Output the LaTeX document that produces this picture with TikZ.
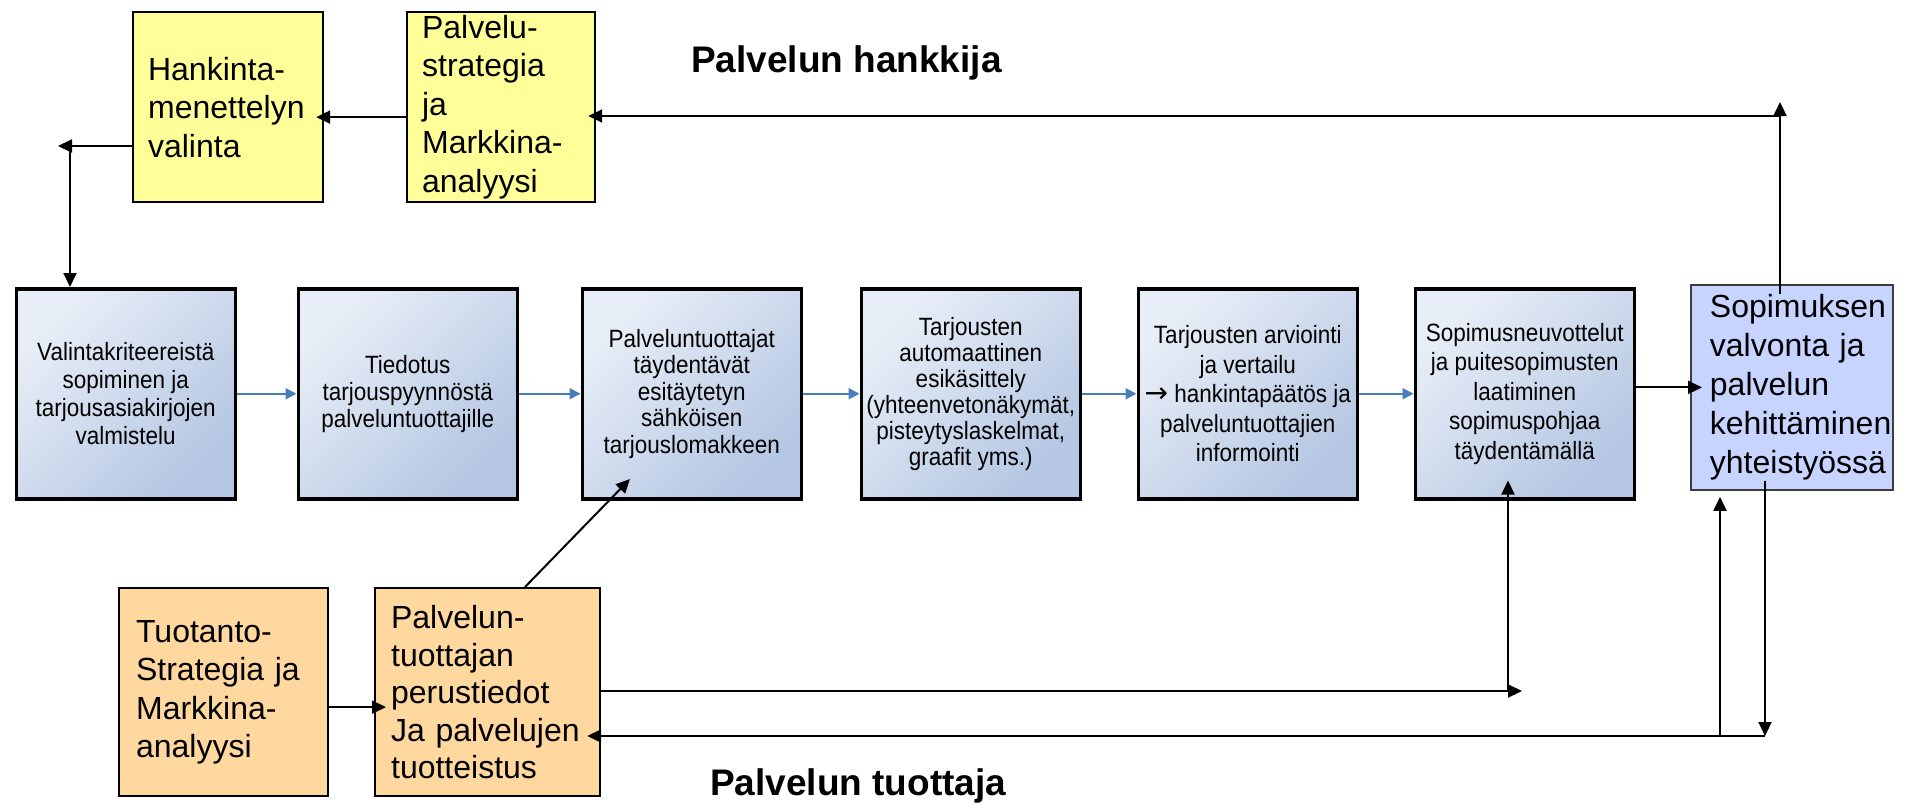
\documentclass[tikz,border=0pt]{standalone}
\usepackage{fontspec}
\setmainfont{Liberation Sans}
\newfontfamily\narrowfont[FakeStretch=0.9]{Liberation Sans}
\newfontfamily\arrowfont{DejaVu Sans}
\usetikzlibrary{arrows.meta,backgrounds}
\hyphenpenalty=10000
\definecolor{boxyellow}{RGB}{255,255,153}
\definecolor{boxpeach}{RGB}{255,216,160}
\definecolor{boxlilac}{RGB}{199,212,255}
\definecolor{gradlight}{RGB}{232,238,247}
\definecolor{graddark}{RGB}{180,198,226}
\definecolor{shadowc}{RGB}{220,229,242}
\definecolor{arrowblue}{RGB}{74,126,187}
\definecolor{lilacborder}{RGB}{60,60,60}
\tikzset{
  midbox/.style={draw=black, line width=3.5pt, top color=gradlight, bottom color=graddark,
    shading angle=45, minimum width=219pt, minimum height=210pt, anchor=north west,
    inner xsep=2pt, inner ysep=2pt, align=center,
    font=\narrowfont\fontsize{25}{28}\selectfont},
  bigbox/.style={draw=black, line width=2.2pt, anchor=north west, inner ysep=2pt,
    align=left, font=\fontsize{32}{38.5}\selectfont},
  blk/.style={draw=black, line width=2pt, -{Triangle[length=14pt,width=13pt]}},
  blu/.style={draw=arrowblue, line width=2pt, -{Triangle[length=11pt,width=11pt]}},
  heading/.style={anchor=base west, inner sep=0pt, font=\bfseries\fontsize{37}{44}\selectfont}
}
\begin{document}
\begin{tikzpicture}[x=1pt,y=-1pt]
\fill[white] (0,0) rectangle (1905,803);
\useasboundingbox (0,0) rectangle (1905,803);

% top boxes
\node[bigbox, fill=boxyellow, minimum width=190pt, minimum height=190pt,
      inner xsep=15pt, text width=160pt] (hank) at (132,11)
  {Hankinta-\\menettelyn\\valinta};
\node[bigbox, fill=boxyellow, minimum width=188pt, minimum height=190pt,
      inner xsep=15pt, text width=158pt] (pal) at (406,11)
  {Palvelu-\\strategia\\ja\\Markkina-\\analyysi};

% middle row
\node[midbox] (b1) at (14.5,287)
  {Valintakriteereistä\\sopiminen ja\\tarjousasiakirjojen\\valmistelu};
\node[midbox, font=\narrowfont\fontsize{25}{27}\selectfont] (b2) at (296.5,287)
  {Tiedotus\\tarjouspyynnöstä\\palveluntuottajille};
\node[midbox, font=\narrowfont\fontsize{25}{26.5}\selectfont] (b3) at (580.5,287)
  {Palveluntuottajat\\täydentävät\\esitäytetyn\\sähköisen\\tarjouslomakkeen};
\node[midbox, font=\narrowfont\fontsize{25}{26}\selectfont] (b4) at (859.5,287)
  {Tarjousten\\automaattinen\\esikäsittely\\(yhteenvetonäkymät,\\pisteytyslaskelmat,\\graafit yms.)};
\node[midbox, font=\narrowfont\fontsize{25}{29.5}\selectfont] (b5) at (1136.5,287)
  {Tarjousten arviointi\\ja vertailu\\{\arrowfont\fontsize{28}{29.5}\selectfont →} hankintapäätös ja\\palveluntuottajien\\informointi};
\node[midbox, font=\narrowfont\fontsize{25}{29.5}\selectfont] (b6) at (1413.5,287)
  {Sopimusneuvottelut\\ja puitesopimusten\\laatiminen\\sopimuspohjaa\\täydentämällä};
\node[bigbox, draw=lilacborder, line width=1.8pt, fill=boxlilac, minimum width=202pt,
      minimum height=205pt, inner xsep=19pt, text width=164pt,
      font=\fontsize{32}{39}\selectfont] (sop) at (1690,284)
  {Sopimuksen\\valvonta ja\\palvelun\\kehittäminen\\yhteistyössä};

% bottom boxes
\node[bigbox, fill=boxpeach, minimum width=209pt, minimum height=208pt,
      inner xsep=17pt, text width=175pt] (tuo) at (118,587)
  {Tuotanto-\\Strategia ja\\Markkina-\\analyysi};
\node[bigbox, fill=boxpeach, minimum width=225pt, minimum height=208pt,
      inner xsep=16pt, text width=193pt, font=\fontsize{32}{37.5}\selectfont] (pp) at (374,587)
  {Palvelun-\\tuottajan\\perustiedot\\Ja palvelujen\\tuotteistus};

% headings
\node[heading] (lh) at (691,72) {Palvelun hankkija};
\node[heading] (lt) at (710,795) {Palvelun tuottaja};

% shadows
\begin{scope}[on background layer]
\foreach \b in {b1,b2,b3,b4,b5,b6}{
  \fill[shadowc] ([shift={(7,8)}]\b.north west) rectangle ([shift={(5,6)}]\b.south east);
}
\end{scope}

% blue flow arrows
\draw[blu] (b1) -- (b2);
\draw[blu] (b2) -- (b3);
\draw[blu] (b3) -- (b4);
\draw[blu] (b4) -- (b5);
\draw[blu] (b5) -- (b6);

% black connectors
\draw[blk, shorten >=-12pt] (sop.west -| b6.east) -- (sop.west);
\draw[blk, shorten >=-8pt] ([yshift=-10pt]pal.west) -- ([yshift=-10pt]hank.east);

\coordinate (tr) at (1780,116);
\coordinate (trtip) at (1780,102);
\draw[blk, shorten <=-10pt] (sop.north -| tr) -- (trtip);
\draw[blk, shorten >=-8pt] (tr) -- (pal.east |- tr);

\coordinate (lc) at (70,146);
\coordinate (lctip) at (58,146);
\draw[blk] (lctip -| hank.west) -- (lctip);
\draw[blk] (lc) -- (lc |- b1.north);

\draw[blk, shorten >=-12pt] ([yshift=-15pt]tuo.east) -- ([yshift=-15pt]pp.west);

\coordinate (d1) at (630,479);
\draw[blk] ([xshift=151pt]pp.north west) -- (d1);

\coordinate (mr) at (1508,691);
\coordinate (mrtip) at (1522,691);
\draw[blk] (mr -| pp.east) -- (mrtip);
\draw[blk, shorten >=-20pt] (mr) -- (mr |- b6.south);

\coordinate (br) at (1765,736);
\coordinate (bl) at (1720,736);
\draw[blk, shorten >=-14pt] (br) -- (br -| pp.east);
\draw[blk, shorten <=-10pt] (sop.south -| br) -- (br);
\draw[blk, shorten >=6pt] (bl) -- (bl |- sop.south);
\end{tikzpicture}
\end{document}
